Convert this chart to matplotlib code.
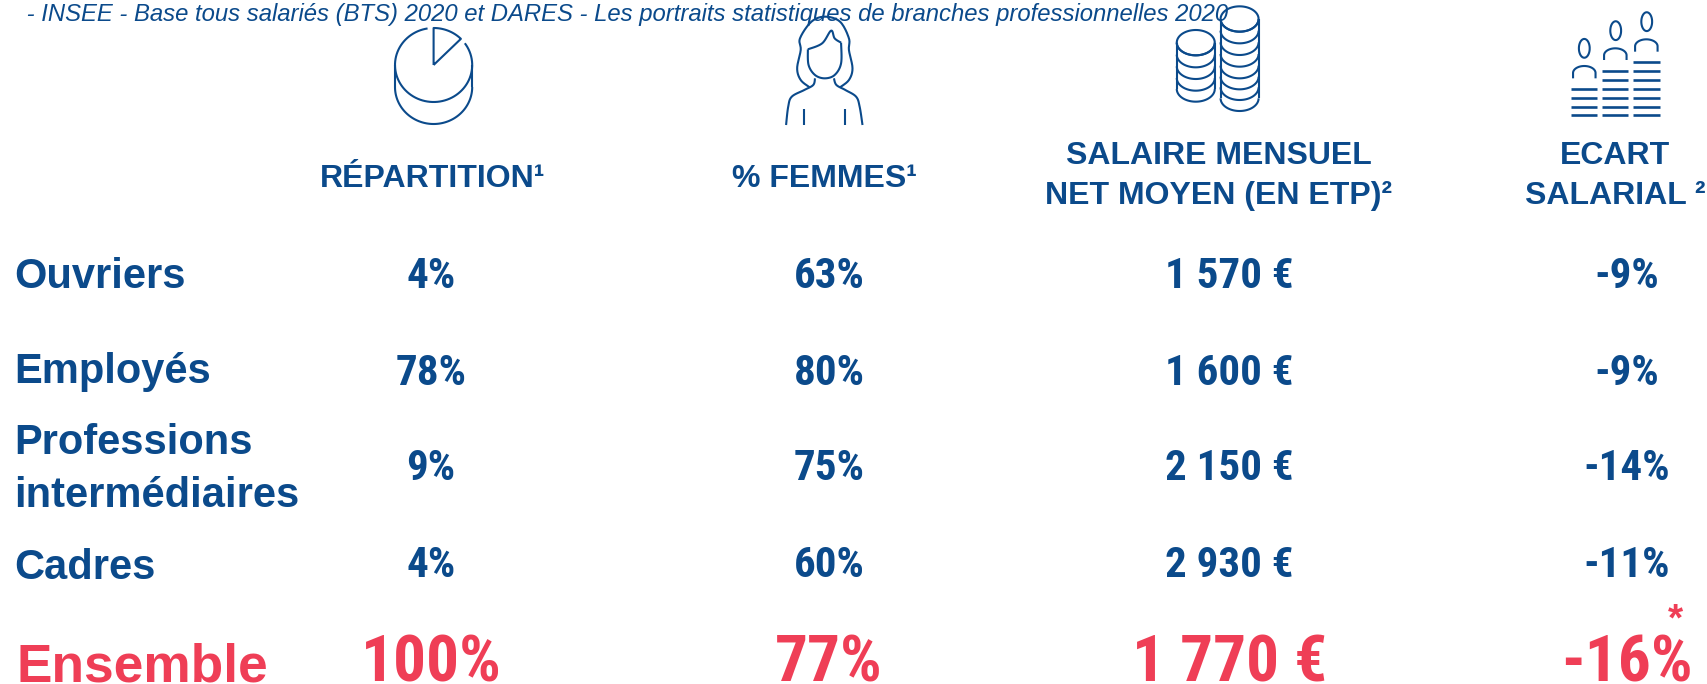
import numpy as np
import matplotlib
matplotlib.use("Agg")
import matplotlib.pyplot as plt
from matplotlib import font_manager

BLUE = "#0B4A8B"
RED = "#EF3E56"

source = " - INSEE - Base tous salariés (BTS) 2020 et DARES - Les portraits statistiques de branches professionnelles 2020"
rows = ["Ouvriers", "Employés", "Professions\nintermédiaires", "Cadres"]
total_label = "Ensemble"
headers = ["RÉPARTITION¹", "% FEMMES¹", "SALAIRE MENSUEL\nNET MOYEN (EN ETP)²", "ECART\nSALARIAL ²"]
repartition = ["4%", "78%", "9%", "4%"]
femmes = ["63%", "80%", "75%", "60%"]
salaire = ["1 570 €", "1 600 €", "2 150 €", "2 930 €"]
ecart = ["-9%", "-9%", "-14%", "-11%"]
totals = ["100%", "77%", "1 770 €", "-16%"]

col_x = [431, 829, 1229.5, 1627]
header_x = [433, 824, 1219, 1615]
header_base = [187, 187, 204, 204]
row_base = [288, 385, 480, 577]
label_base = [288, 383, 507, 579]

names = {f.name for f in font_manager.fontManager.ttflist}
narrow = next((n for n in ["Liberation Sans Narrow", "Roboto Condensed", "Open Sans Condensed", "Roboto"]
               if n in names), "Liberation Sans")

Z1 = np.array([2.8, 3.0])
Z2 = np.array([2.579, 3.0])


def smooth(pts, n=12):
    # catmull-rom through the given points
    p = np.array(pts, dtype=float)
    p = np.vstack([p[0], p, p[-1]])
    out = []
    for i in range(1, len(p) - 2):
        for t in np.linspace(0, 1, n, endpoint=False):
            a = 2 * p[i] + (p[i + 1] - p[i - 1]) * t
            b = (2 * p[i - 1] - 5 * p[i] + 4 * p[i + 1] - p[i + 2]) * t ** 2
            c = (-p[i - 1] + 3 * p[i] - 3 * p[i + 1] + p[i + 2]) * t ** 3
            out.append(0.5 * (a + b + c))
    out.append(p[-2])
    return np.array(out)


def line(ax, xy, lw=1.5):
    xy = np.asarray(xy, dtype=float)
    ax.plot(xy[:, 0], xy[:, 1], color=BLUE, lw=lw, solid_capstyle="butt", zorder=3)


def arc(cx, cy, rx, ry, a0, a1):
    t = np.radians(np.linspace(a0, a1, 80))
    return np.column_stack([cx + rx * np.cos(t), cy + ry * np.sin(t)])


def draw_pie(ax):
    cx, cy, rx, ry = 433.6, 65, 38.6, 37
    shift = 22
    line(ax, arc(cx, cy, rx, ry, -36, 261))
    line(ax, arc(cx, cy + shift, rx, ry, 0, 180))
    line(ax, [[cx - rx, cy], [cx - rx, cy + shift]])
    line(ax, [[cx + rx, cy], [cx + rx, cy + shift]])
    sector = np.vstack([[cx, cy], arc(cx, cy, rx, ry, -90, -45), [cx, cy]])
    line(ax, sector)


def draw_woman(ax):
    parts = [
        [(1315, 262), (1290, 240), (1280, 205), (1290, 150), (1288, 115), (1320, 65), (1358, 50),
         (1400, 65), (1425, 115), (1425, 150), (1435, 205), (1425, 240), (1400, 262)],
        [(1310, 148), (1350, 130), (1375, 92), (1385, 115), (1403, 128)],
        [(1310, 148), (1312, 195), (1330, 225), (1357, 235), (1385, 225), (1403, 190), (1403, 128)],
        [(1330, 235), (1325, 255), (1300, 270), (1265, 290), (1255, 320), (1249, 375)],
        [(1383, 235), (1390, 255), (1415, 270), (1445, 290), (1455, 320), (1463, 375)],
    ]
    for part in parts:
        line(ax, smooth(part) / Z1 + [340, 0])
    for x in (1298, 1415):
        line(ax, np.array([[x, 328], [x, 375]]) / Z1 + [340, 0])


def draw_coins(ax):
    stacks = [(247, 128, [166, 202, 237, 272, 305]),
              (360, 57, [95, 130, 165, 200, 235, 268, 300, 333])]
    rx, ry = 49 / Z2[0], 38 / Z2[1]
    for cx, cy, bottoms in stacks:
        x0, y0 = cx / Z2[0] + 1100, cy / Z2[1]
        line(ax, arc(x0, y0, rx, ry, 0, 360))
        for b in bottoms:
            line(ax, arc(x0, b / Z2[1] - ry, rx, ry, 0, 180))
        line(ax, [[x0 - rx, y0], [x0 - rx, bottoms[-1] / Z2[1] - ry]])
        line(ax, [[x0 + rx, y0], [x0 + rx, bottoms[-1] / Z2[1] - ry]])


def draw_people(ax):
    heads = [(1249, 145), (1330, 92), (1410, 65)]
    arches = [(1249, 198, 235), (1329, 145, 180), (1409, 118, 155)]
    bars = [(1215, 1283, [266, 293, 320, 346]),
            (1295, 1363, [213, 240, 266, 293, 320, 346]),
            (1375, 1443, [186, 213, 240, 266, 293, 320, 346])]
    zx, zy = Z2
    for hx, hy in heads:
        line(ax, arc(hx / zx + 1100, hy / zy, 5.4, 9.4, 0, 360))
    hw = 29 / zx
    for ax_x, top, bot in arches:
        x0 = ax_x / zx + 1100
        mid = top / zy + 7
        xy = np.vstack([[x0 - hw, bot / zy], arc(x0, mid, hw, 7, 180, 360), [x0 + hw, bot / zy]])
        line(ax, xy)
    for x0, x1, ys in bars:
        for y in ys:
            line(ax, [[x0 / zx + 1100, y / zy], [x1 / zx + 1100, y / zy]], lw=1.9)


fig = plt.figure(figsize=(17.08, 6.84), dpi=100, facecolor="white")
ax = fig.add_axes([0, 0, 1, 1])
ax.set_xlim(0, 1708)
ax.set_ylim(684, 0)
ax.axis("off")

plt.rcParams["font.family"] = ["Liberation Sans", "DejaVu Sans"]

draw_pie(ax)
draw_woman(ax)
draw_coins(ax)
draw_people(ax)

ax.text(20, 21, source, color=BLUE, fontsize=17.2, style="italic", ha="left", va="baseline", zorder=4)

for x, y, h in zip(header_x, header_base, headers):
    ax.text(x, y, h, color=BLUE, fontsize=23, fontweight="bold",
            ha="center", va="baseline", linespacing=1.42)

for y, r in zip(label_base, rows):
    ax.text(14, y, r, color=BLUE, fontsize=30, fontweight="bold", ha="left", va="baseline",
            linespacing=1.42)
ax.text(16, 682, total_label, color=RED, fontsize=38.3, fontweight="bold", ha="left", va="baseline")

for x, col in zip(col_x, [repartition, femmes, salaire, ecart]):
    for y, v in zip(row_base, col):
        ax.text(x, y, v, color=BLUE, fontsize=31, fontweight="bold", family=narrow,
                ha="center", va="baseline")

for x, v in zip(col_x, totals):
    ax.text(x, 681, v, color=RED, fontsize=47, fontweight="bold", family=narrow,
            ha="center", va="baseline")

ax.text(1675, 620, "*", color=RED, fontsize=28, fontweight="bold", ha="center", va="center")

fig.savefig("out.png", dpi=100)
